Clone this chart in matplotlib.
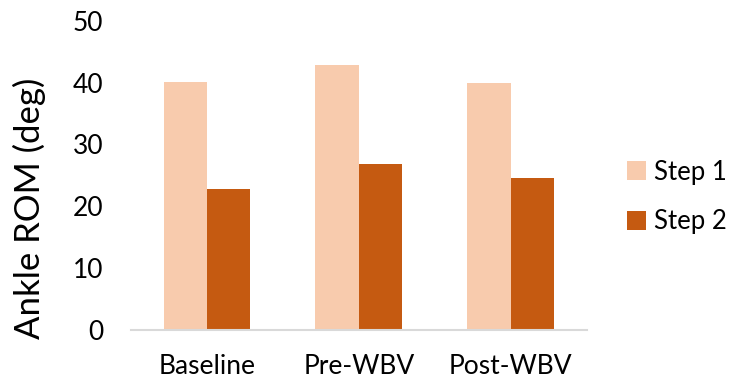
import numpy as np
import matplotlib.pyplot as plt

plt.rcParams['font.family'] = ['Lato', 'DejaVu Sans']

categories = ['Baseline', 'Pre-WBV', 'Post-WBV']
step1 = [40.1, 42.9, 40.0]
step2 = [22.8, 26.9, 24.6]

fig = plt.figure(figsize=(7.32, 3.85), dpi=100)
ax = fig.add_axes([0.179, 0.143, 0.6225, 0.803])

x = np.arange(len(categories))
w = 0.286
ax.bar(x - w / 2, step1, w, color='#F8CBAD', label='Step 1', zorder=2)
ax.bar(x + w / 2, step2, w, color='#C55A11', label='Step 2', zorder=2)

ax.set_xlim(-0.5, 2.5)
ax.set_ylim(0, 50)
ax.set_yticks(range(0, 51, 10))
ax.set_xticks(x)
ax.set_xticklabels(categories)
ax.tick_params(axis='both', length=0, labelsize=19, colors='black')
ax.tick_params(axis='x', pad=17)
ax.tick_params(axis='y', pad=20)

for side in ['top', 'right', 'left']:
    ax.spines[side].set_visible(False)
ax.spines['bottom'].set_color('#D9D9D9')
ax.spines['bottom'].set_linewidth(1.5)

# y label sits a bit below the axes centre
fig.text(0.0396, 0.4597, 'Ankle ROM (deg)', rotation=90, ha='center',
         va='center', fontsize=25)

ax.legend(loc='center left', bbox_to_anchor=(1.066, 0.43), frameon=False,
          fontsize=18.5, handlelength=0.75, handleheight=0.75, handletextpad=0.3,
          labelspacing=0.95, borderaxespad=0.0)

fig.savefig('out.png', dpi=100)
